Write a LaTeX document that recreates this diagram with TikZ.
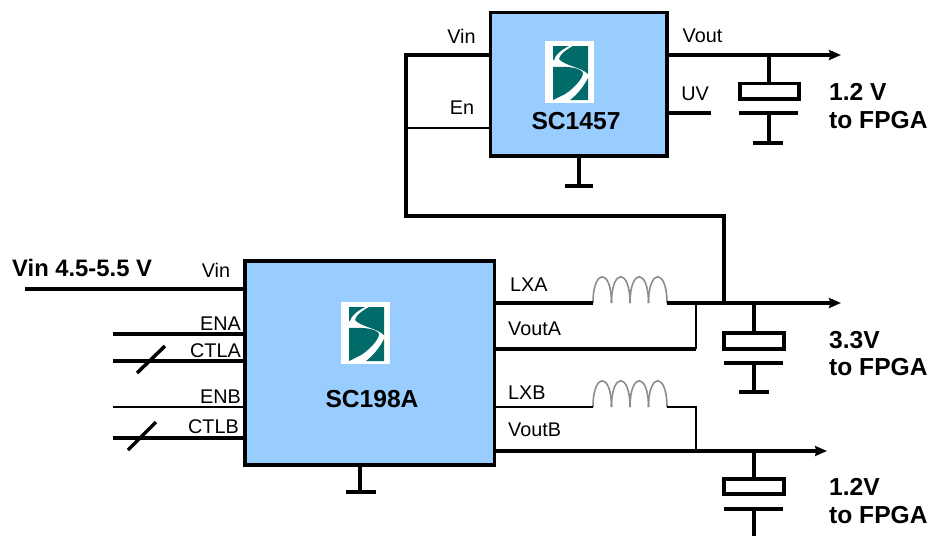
\documentclass[tikz,border=0pt]{standalone}
\usepackage{xcolor}
\usepackage{amsmath}
\usepackage{fontspec}
\setmainfont{Liberation Sans}
\usetikzlibrary{positioning,arrows.meta}
\definecolor{chipblue}{HTML}{99CCFF}
\definecolor{logoteal}{HTML}{006B68}
\tikzset{
	heavy/.style={line width=3.5pt},
	light/.style={line width=2pt},
	chipbox/.style={draw,heavy,fill=chipblue,inner sep=0,outer sep=0},
	pinlabel/.style={inner sep=0,font=\fontsize{19.8}{22}\selectfont},
	biglabel/.style={inner sep=0,font=\fontsize{24.6}{28}\selectfont\bfseries},
	coil/.style={line width=1.6pt,color=black!45},
	outarrow/.style={heavy,-{Stealth[length=12pt,width=10pt,inset=1.5pt]}},
}
% logo block, top left corner given
\newcommand{\LogoMark}[2]{
	\begin{scope}[shift={(#1,#2)}]
		\fill[white] (0,0) rectangle (49,62);
		\fill[logoteal] (8,5) -- (24,5) .. controls (16,9) and (10,14) .. (9,19) -- (8,19) -- cycle;
		\fill[logoteal] (28,5) -- (43,5) -- (43,33) .. controls (36,26) and (20,25) .. (14,18) .. controls (15,13) and (21,9) .. (28,5) -- cycle;
		\fill[logoteal] (8,26) .. controls (24,25) and (36,27) .. (38,32) .. controls (38,38) and (27,49) .. (20,53) -- (8,59) -- cycle;
		\fill[logoteal] (43,37) -- (43,59) -- (25,59) .. controls (32,54) and (39,45) .. cycle;
	\end{scope}
}
% four humps between two points on one level
\newcommand{\CoilHumps}[2]{
	\foreach \hump in {0,1,2,3}{
		\draw[coil] ({#1+\hump*18.5},#2) .. controls ({#1+\hump*18.5},{#2-35}) and ({#1+(\hump+1)*18.5},{#2-35}) .. ({#1+(\hump+1)*18.5},#2);
	}
}

\begin{document}
\begin{tikzpicture}[x=1pt,y=-1pt]
	\useasboundingbox (0,0) rectangle (930,536);

	\node[chipbox,minimum width=176.5pt,minimum height=143.5pt] (chipT) at (578.75,84) {};
	\node[chipbox,minimum width=249.5pt,minimum height=204pt] (chipA) at (369.75,363) {};
	\LogoMark{545}{41}
	\LogoMark{341}{302}
	\node[biglabel] (nameT) at (576,121) {SC1457};
	\node[biglabel] (nameA) at (372,399) {SC198A};

	\coordinate (tVin) at (490.5,55);
	\coordinate (tEn) at (490.5,128);
	\coordinate (tVout) at (667,55);
	\coordinate (tUV) at (667,113);
	\coordinate (tGnd) at (579,155.75);
	\coordinate (railTL) at (406,55);
	\coordinate (railEn) at (406,128);
	\coordinate (railBL) at (406,216);
	\coordinate (railBR) at (724,216);
	\coordinate (railJ) at (724,303);
	\coordinate (tOut) at (841,55);
	\coordinate (uvEnd) at (711,113);
	\coordinate (tGndFoot) at (579,186);
	\coordinate (tGndL) at (565,186);
	\coordinate (tGndR) at (593,186);
	\draw[heavy] (tVin) -- (railTL) -- (railBL) -- (railBR) -- (railJ);
	\draw[light] (tEn) -- (railEn);
	\draw[outarrow] (tVout) -- (tOut);
	\draw[heavy] (tUV) -- (uvEnd);
	\draw[heavy] (tGnd) -- (tGndFoot);
	\draw[heavy] (tGndL) -- (tGndR);

	\coordinate (capTtop) at (769,55);
	\coordinate (capTa) at (769,83);
	\coordinate (capTb) at (769,113);
	\coordinate (capTc) at (769,143);
	\node[draw,heavy,inner sep=0,outer sep=0,minimum width=59pt,minimum height=15.5pt] (capT) at (769.5,91) {};
	\coordinate (capTpL) at (739,113);
	\coordinate (capTpR) at (798,113);
	\coordinate (capTfL) at (753,143);
	\coordinate (capTfR) at (783,143);
	\draw[heavy] (capTtop) -- (capTa);
	\draw[heavy] (capTpL) -- (capTpR);
	\draw[heavy] (capTb) -- (capTc);
	\draw[heavy] (capTfL) -- (capTfR);

	\coordinate (aVin) at (245,289);
	\coordinate (aENA) at (245,334);
	\coordinate (aCTLA) at (245,361);
	\coordinate (aENB) at (245,407);
	\coordinate (aCTLB) at (245,438);
	\coordinate (inVin) at (25,289);
	\coordinate (inENA) at (113,334);
	\coordinate (inCTLA) at (113,361);
	\coordinate (inENB) at (113,407);
	\coordinate (inCTLB) at (113,438);
	\coordinate (slashAa) at (137,373);
	\coordinate (slashAb) at (165,346);
	\coordinate (slashBa) at (128,450);
	\coordinate (slashBb) at (156,422);
	\draw[heavy] (inVin) -- (aVin);
	\draw[heavy] (inENA) -- (aENA);
	\draw[heavy] (inCTLA) -- (aCTLA);
	\draw[light] (inENB) -- (aENB);
	\draw[heavy] (inCTLB) -- (aCTLB);
	\draw[heavy] (slashAa) -- (slashAb);
	\draw[heavy] (slashBa) -- (slashBb);

	\coordinate (aGnd) at (360,465);
	\coordinate (aGndFoot) at (360,492);
	\coordinate (aGndL) at (346,492);
	\coordinate (aGndR) at (376,492);
	\draw[heavy] (aGnd) -- (aGndFoot);
	\draw[heavy] (aGndL) -- (aGndR);

	\coordinate (aLXA) at (494.5,303);
	\coordinate (aVoutA) at (494.5,349);
	\coordinate (aLXB) at (494.5,407);
	\coordinate (aVoutB) at (494.5,451);
	\coordinate (coilAin) at (593,303);
	\coordinate (coilAout) at (667,303);
	\coordinate (coilBin) at (593,407);
	\coordinate (coilBout) at (667,407);
	\coordinate (fbAtop) at (696,303);
	\coordinate (fbAbot) at (696,349);
	\coordinate (fbBtop) at (696,407);
	\coordinate (fbBbot) at (696,451);
	\coordinate (outA) at (841,303);
	\coordinate (outB) at (827,451);
	\CoilHumps{593}{303}
	\CoilHumps{593}{407}
	\draw[heavy] (aLXA) -- (coilAin);
	\draw[outarrow] (coilAout) -- (outA);
	\draw[heavy] (aVoutA) -- (fbAbot);
	\draw[light] (fbAtop) -- (fbAbot);
	\draw[light] (aLXB) -- (coilBin);
	\draw[light] (coilBout) -- (fbBtop) -- (fbBbot);
	\draw[outarrow] (aVoutB) -- (outB);

	\coordinate (capAtop) at (754,303);
	\coordinate (capAa) at (754,333);
	\coordinate (capAb) at (754,363);
	\coordinate (capAc) at (754,392);
	\node[draw,heavy,inner sep=0,outer sep=0,minimum width=60pt,minimum height=16pt] (capA) at (754,341) {};
	\coordinate (capApL) at (724,363);
	\coordinate (capApR) at (783,363);
	\coordinate (capAfL) at (739,392);
	\coordinate (capAfR) at (769,392);
	\draw[heavy] (capAtop) -- (capAa);
	\draw[heavy] (capApL) -- (capApR);
	\draw[heavy] (capAb) -- (capAc);
	\draw[heavy] (capAfL) -- (capAfR);

	\coordinate (capBtop) at (754,451);
	\coordinate (capBa) at (754,479);
	\coordinate (capBb) at (754,509);
	\coordinate (capBc) at (754,536);
	\node[draw,heavy,inner sep=0,outer sep=0,minimum width=60pt,minimum height=15pt] (capB) at (754,486.5) {};
	\coordinate (capBpL) at (724,509);
	\coordinate (capBpR) at (783,509);
	\draw[heavy] (capBtop) -- (capBa);
	\draw[heavy] (capBpL) -- (capBpR);
	\draw[heavy] (capBb) -- (capBc);

	\node[pinlabel] (lblTVin) at (461.5,36) {Vin};
	\node[pinlabel] (lblTEn) at (462,108) {En};
	\node[pinlabel] (lblTVout) at (702.5,36) {Vout};
	\node[pinlabel] (lblTUV) at (695,94) {UV};
	\node[pinlabel] (lblAVin) at (216,270) {Vin};
	\node[pinlabel,anchor=east] (lblENA) at (241,324) {ENA};
	\node[pinlabel,anchor=east] (lblCTLA) at (241,351) {CTLA};
	\node[pinlabel,anchor=east] (lblENB) at (241,397) {ENB};
	\node[pinlabel,anchor=east] (lblCTLB) at (239,427) {CTLB};
	\node[pinlabel,anchor=west] (lblLXA) at (510,285) {LXA};
	\node[pinlabel,anchor=west] (lblVoutA) at (508,329) {VoutA};
	\node[pinlabel,anchor=west] (lblLXB) at (508,393) {LXB};
	\node[pinlabel,anchor=west] (lblVoutB) at (508,430) {VoutB};

	\node[biglabel,anchor=west,font=\fontsize{23.8}{28}\selectfont\bfseries] (lblSupply) at (12,268) {Vin 4.5-5.5 V};
	\node[biglabel,anchor=west] (lblT1) at (829,92) {1.2 V};
	\node[biglabel,anchor=west] (lblT2) at (829,120) {to FPGA};
	\node[biglabel,anchor=west] (lblA1) at (829,340) {3.3V};
	\node[biglabel,anchor=west] (lblA2) at (829,367) {to FPGA};
	\node[biglabel,anchor=west] (lblB1) at (829,487) {1.2V};
	\node[biglabel,anchor=west] (lblB2) at (829,515) {to FPGA};
\end{tikzpicture}
\end{document}
